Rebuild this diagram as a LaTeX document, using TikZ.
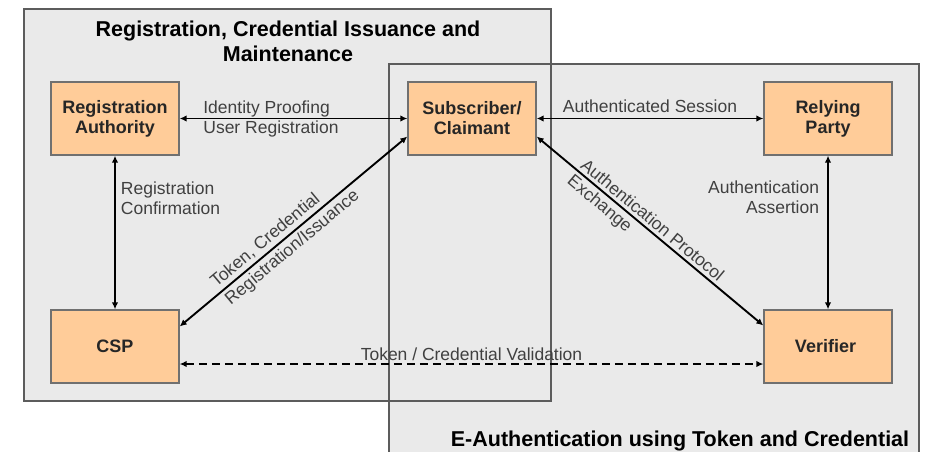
\documentclass[tikz,border=0pt]{standalone}
\usepackage{fontspec}
\setmainfont{Liberation Sans}
\usetikzlibrary{arrows.meta}
\definecolor{panelgray}{HTML}{EAEAEA}
\definecolor{framegray}{HTML}{5C5C5C}
\definecolor{boxorange}{HTML}{FFCC99}
\definecolor{boxedge}{HTML}{707070}
\definecolor{labelgray}{HTML}{404040}
\def\boxw{128pt}
\def\boxh{73pt}
\def\tipsize{length=7pt,width=6.5pt}

\begin{document}
\begin{tikzpicture}[
    x=1pt, y=-1pt,
    arrowtip/.style={
      {Latex[\tipsize]}-{Latex[\tipsize]}, line width=1.9pt
    },
    panelframe/.style={draw=framegray, line width=1.2pt},
    actorbox/.style={
      draw=boxedge, line width=1.3pt, fill=boxorange,
      minimum width=\boxw, minimum height=\boxh, inner sep=0pt,
      align=center, text=black!85, font=\bfseries\fontsize{18}{20}\selectfont
    },
    edgelabel/.style={
      inner sep=0pt, text=labelgray, font=\fontsize{17.5}{20}\selectfont
    },
    paneltitle/.style={
      inner sep=0pt, align=center, font=\bfseries\fontsize{21.5}{25}\selectfont
    }
  ]
    \useasboundingbox (0,0) rectangle (927,452);

    \fill[panelgray] (24,9) rectangle (551,401);
    \fill[panelgray] (389,64) rectangle (919,452);
    \draw[panelframe] (24,9) rectangle (551,401);
    \draw[panelframe] (389,453) |- (919,64) -- (919,453);

    \node[paneltitle] (regtitle) at (288,41) {Registration, Credential Issuance and\\Maintenance};
    \node[paneltitle, anchor=base] (authtitle) at (680,446) {E-Authentication using Token and Credential};

    \foreach \name / \x / \y / \txt in {
      ra/115/118.5/{Registration\\Authority},
      sub/472/118.5/{Subscriber/\\Claimant},
      rp/828/118.5/{Relying\\Party},
      csp/115/346.5/{CSP},
      ver/828/346.5/{Verifier}
    } {
      \node[actorbox] (\name) at (\x,\y) {\txt};
    }

    \draw[arrowtip] (ra) -- node[edgelabel, pos=0.1, anchor=west, align=left] (idlabel) {Identity Proofing\\User Registration} (sub);
    \draw[arrowtip] (sub) -- node[edgelabel, above=5pt] (sessionlabel) {Authenticated Session} (rp);
    \draw[arrowtip] (ra) -- node[edgelabel, pos=0.28, right=5pt, align=left] (conflabel) {Registration\\Confirmation} (csp);
    \draw[arrowtip] (rp) -- node[edgelabel, pos=0.27, left=8pt, align=right] (assertlabel) {Authentication\\Assertion} (ver);

    \draw[arrowtip] ([yshift=20pt]csp.east) --
      node[edgelabel, sloped, pos=0.165, anchor=south west, inner sep=3pt] (tokenlabel) {Token, Credential}
      node[edgelabel, sloped, pos=0.165, anchor=north west, inner sep=3pt] (issuelabel) {Registration/Issuance}
      ([yshift=-18pt]sub.west);
    \draw[arrowtip] ([yshift=-18pt]sub.east) --
      node[edgelabel, sloped, pos=0.165, anchor=south west, inner sep=3pt] (protolabel) {Authentication Protocol}
      node[edgelabel, sloped, pos=0.165, anchor=north west, inner sep=3pt] (exchlabel) {Exchange}
      ([yshift=21pt]ver.west);

    \draw[arrowtip, dash pattern=on 8pt off 5pt] ([yshift=-17.5pt]csp.east) --
      node[edgelabel, above=2pt] (validlabel) {Token / Credential Validation}
      ([yshift=-17.5pt]ver.west);
  \end{tikzpicture}
\end{document}
